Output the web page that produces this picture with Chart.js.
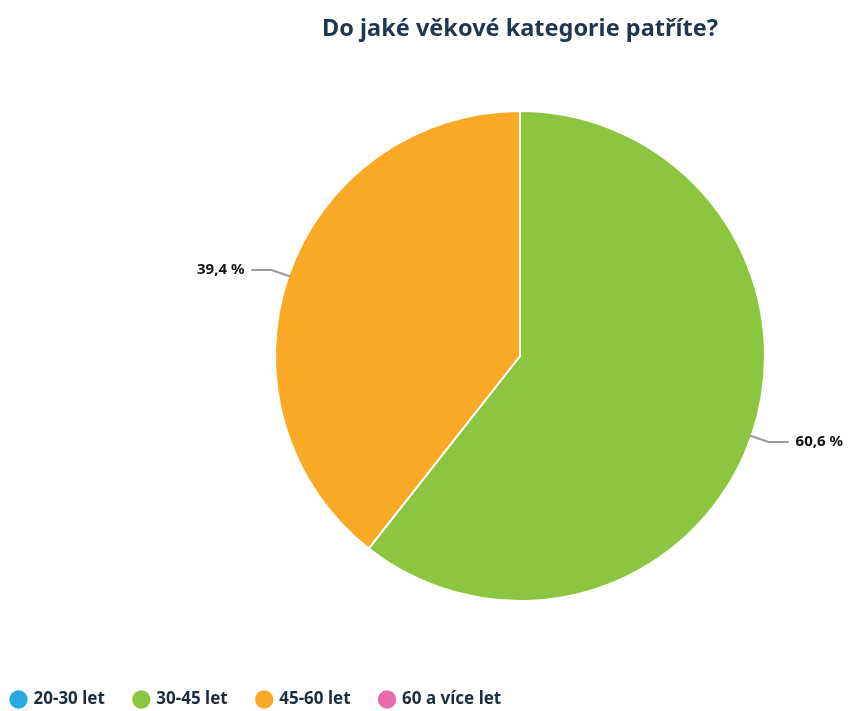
<!DOCTYPE html>
<html>
<head>
<meta charset="utf-8">
<script src="https://cdn.jsdelivr.net/npm/chart.js@4.4.0/dist/chart.umd.min.js"></script>
<style>
  html, body { margin: 0; padding: 0; background: #fff; }
  #wrap { width: 852px; height: 711px; }
</style>
</head>
<body>
<div id="wrap"><canvas id="chart" width="852" height="711"></canvas></div>
<script>
const categories = ['20-30 let', '30-45 let', '45-60 let', '60 a více let'];
const shares = [0, 60.6, 39.4, 0];
const colors = ['#27a9e1', '#8cc540', '#faa926', '#e96ca9'];
const titleText = 'Do jaké věkové kategorie patříte?';
const textColor = '#1c2d40';
const fontFamily = '"Noto Sans", sans-serif';

// put the pie (and its title) where the reference has them, right of the page centre
const pieArea = {
  id: 'pieArea',
  afterLayout(chart) {
    const a = chart.chartArea;
    a.left = 274; a.right = 766;
    a.top = 110; a.bottom = 602;
    a.width = a.right - a.left;
    a.height = a.bottom - a.top;
    chart.titleBlock.left = 188;
    chart.titleBlock.right = 852;
  }
};

// leader lines + percentage labels outside the slices
const outLabels = {
  id: 'outLabels',
  afterDatasetsDraw(chart) {
    const ctx = chart.ctx;
    const meta = chart.getDatasetMeta(0);
    meta.data.forEach((arc, i) => {
      if (!shares[i]) return;
      const mid = (arc.startAngle + arc.endAngle) / 2;
      const r = arc.outerRadius;
      const cos = Math.cos(mid), sin = Math.sin(mid);
      const x0 = arc.x + cos * (r - 2), y0 = arc.y + sin * (r - 2);
      const x1 = arc.x + cos * (r + 18), y1 = arc.y + sin * (r + 18);
      const dir = cos >= 0 ? 1 : -1;
      const x2 = x1 + dir * 20;
      ctx.save();
      ctx.strokeStyle = '#9a9a9a';
      ctx.lineWidth = 2;
      ctx.beginPath();
      ctx.moveTo(x0, y0);
      ctx.lineTo(x1, y1);
      ctx.lineTo(x2, y1);
      ctx.stroke();
      ctx.fillStyle = '#111';
      ctx.font = 'bold 15px ' + fontFamily;
      ctx.textBaseline = 'middle';
      ctx.textAlign = dir > 0 ? 'left' : 'right';
      ctx.fillText(shares[i].toFixed(1).replace('.', ',') + ' %', x2 + dir * 7, y1);
      ctx.restore();
    });
  }
};

new Chart(document.getElementById('chart'), {
  type: 'pie',
  data: {
    labels: categories,
    datasets: [{
      data: shares,
      backgroundColor: colors,
      borderColor: '#ffffff',
      borderWidth: 2
    }]
  },
  options: {
    responsive: false,
    animation: false,
    layout: { padding: { left: -18, right: 0, top: 0, bottom: -7 } },
    plugins: {
      title: {
        display: true,
        text: titleText,
        color: '#1f3550',
        font: { family: fontFamily, size: 23.5, weight: 'bold' },
        padding: { top: 15, bottom: 0 }
      },
      legend: {
        position: 'bottom',
        align: 'start',
        labels: {
          usePointStyle: true,
          pointStyle: 'circle',
          boxWidth: 13,
          boxHeight: 13,
          padding: 30,
          color: textColor,
          font: { family: fontFamily, size: 17, weight: 'bold' },
          generateLabels(chart) {
            return categories.map((c, i) => ({
              text: c,
              fillStyle: colors[i],
              strokeStyle: colors[i],
              lineWidth: 0,
              pointStyle: 'circle',
              hidden: false,
              index: i,
              fontColor: textColor
            }));
          }
        }
      },
      tooltip: { enabled: false }
    }
  },
  plugins: [pieArea, outLabels]
});
</script>
</body>
</html>
